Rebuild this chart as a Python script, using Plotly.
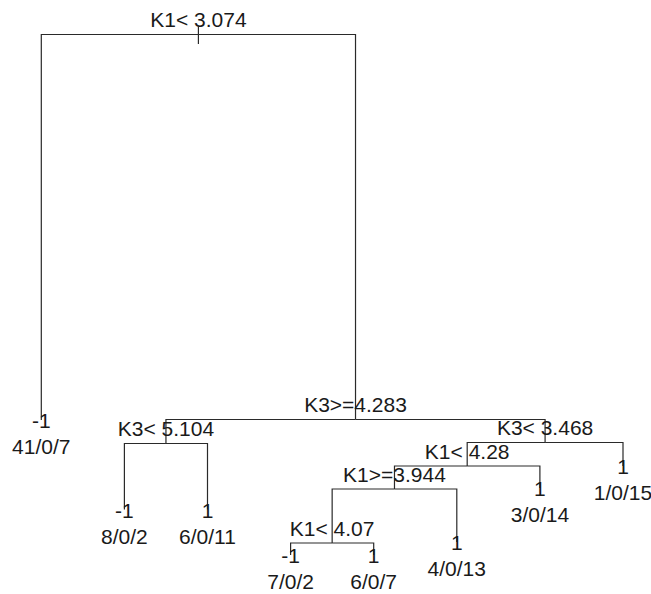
import plotly.graph_objects as go

# ---- tree data (rpart-style classification tree) ----
# node ids (rpart numbering), parent ids, split labels / leaf class + counts
node_ids    = [1, 2, 3, 6, 12, 13, 7, 14, 28, 56, 112, 113, 57, 29, 15]
parent_ids  = [None, 1, 1, 3, 6, 6, 3, 7, 14, 28, 56, 56, 28, 14, 7]
split_label = ["K1< 3.074", None, "K3>=4.283", "K3< 5.104", None, None,
               "K3< 3.468", "K1< 4.28", "K1>=3.944", "K1< 4.07", None, None,
               None, None, None]
leaf_class  = [None, "-1", None, None, "-1", "1", None, None, None, None,
               "-1", "1", "1", "1", "1"]
leaf_counts = [None, "41/0/7", None, None, "8/0/2", "6/0/11", None, None, None,
               None, "7/0/2", "6/0/7", "4/0/13", "3/0/14", "1/0/15"]
# node heights (distance from top of plot)
node_height = [34.5, 420, 419.5, 443.5, 509.5, 509.5, 442.5, 466, 489, 543,
               555, 555, 542, 488, 466]

# ---- layout of the tree: leaves at 1..n, internal nodes at children's midpoint ----
idx = {n: i for i, n in enumerate(node_ids)}
children = {n: [] for n in node_ids}
for n, p in zip(node_ids, parent_ids):
    if p is not None:
        children[p].append(n)

xpos = {}
counter = [0]
def place(n):
    if not children[n]:
        counter[0] += 1
        xpos[n] = counter[0]
    else:
        xs = [place(c) for c in children[n]]
        xpos[n] = (xs[0] + xs[-1]) / 2
    return xpos[n]
place(1)

LINE = "#2a2a2a"
fig = go.Figure()

# branches: horizontal at parent's height, vertical down to child
lx, ly = [], []
for n, p in zip(node_ids, parent_ids):
    if p is None:
        continue
    yp = node_height[idx[p]]
    yc = node_height[idx[n]]
    lx += [xpos[p], xpos[n], xpos[n], None]
    ly += [yp, yp, yc, None]
# root marker
root_y = node_height[idx[1]]
lx += [xpos[1], xpos[1], None]
ly += [root_y - 7.5, root_y + 9.5, None]

fig.add_trace(go.Scatter(x=lx, y=ly, mode="lines",
                         line=dict(color=LINE, width=1.2),
                         hoverinfo="skip", showlegend=False))

FONT = dict(family="Liberation Sans, Arial, sans-serif", size=21, color="#1a1a1a")

sx, sy, st = [], [], []
for n, lab in zip(node_ids, split_label):
    if lab:
        sx.append(xpos[n]); sy.append(node_height[idx[n]] - 12.5); st.append(lab)
fig.add_trace(go.Scatter(x=sx, y=sy, text=st, mode="text", textfont=FONT,
                         textposition="middle center", hoverinfo="skip",
                         showlegend=False))

cx, cy, ct = [], [], []
for n, c, k in zip(node_ids, leaf_class, leaf_counts):
    if c:
        h = node_height[idx[n]]
        cx += [xpos[n], xpos[n]]
        cy += [h + 3, h + 29]
        ct += [c, k]
fig.add_trace(go.Scatter(x=cx, y=cy, text=ct, mode="text", textfont=FONT,
                         textposition="middle center", hoverinfo="skip",
                         showlegend=False))

scale = (623 - 41.3) / 7
x0 = 1 - 41.3 / scale
fig.update_layout(
    width=651, height=594,
    margin=dict(l=0, r=0, t=0, b=0),
    paper_bgcolor="white", plot_bgcolor="white",
    xaxis=dict(range=[x0, x0 + 651 / scale], visible=False, fixedrange=True),
    yaxis=dict(range=[594, 0], visible=False, fixedrange=True),
)
fig.write_html("out.html")
